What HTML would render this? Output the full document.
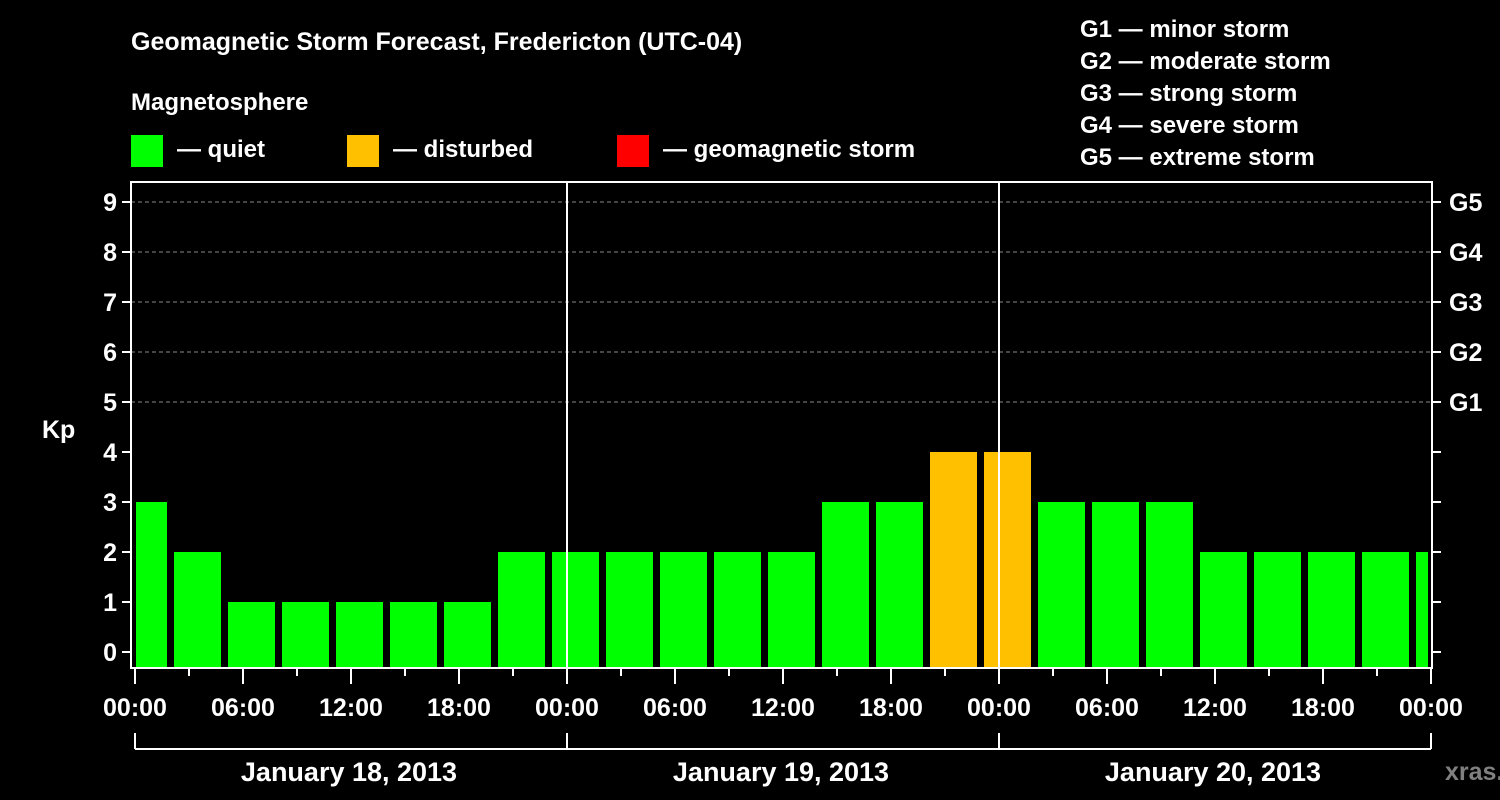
<!DOCTYPE html>
<html><head><meta charset="utf-8"><style>
body{margin:0;background:#000;}
svg{display:block;font-family:"Liberation Sans",sans-serif;font-weight:bold;}
</style></head><body>
<svg id="chart" width="1500" height="800" viewBox="0 0 1500 800">
<rect width="1500" height="800" fill="#000"/>
<text x="131" y="50" fill="#fff" font-size="25">Geomagnetic Storm Forecast, Fredericton (UTC-04)</text>
<text x="131" y="110" fill="#fff" font-size="24">Magnetosphere</text>
<g><rect x="131" y="135" width="32" height="32" fill="#00ff00"/><text x="177" y="157" fill="#fff" font-size="24">— quiet</text></g>
<g><rect x="347" y="135" width="32" height="32" fill="#ffc000"/><text x="393" y="157" fill="#fff" font-size="24">— disturbed</text></g>
<g><rect x="617" y="135" width="32" height="32" fill="#ff0000"/><text x="663" y="157" fill="#fff" font-size="24">— geomagnetic storm</text></g>
<g fill="#fff" font-size="24">
<text x="1080" y="37">G1 — minor storm</text>
<text x="1080" y="69">G2 — moderate storm</text>
<text x="1080" y="101">G3 — strong storm</text>
<text x="1080" y="133">G4 — severe storm</text>
<text x="1080" y="165">G5 — extreme storm</text>
</g>
<text x="42" y="438" fill="#fff" font-size="25">Kp</text>
<g id="grid"></g><g id="bars"></g><g id="axes"></g>
<text x="1445" y="780" fill="#808080" font-size="25">xras.ru</text>
</svg>
<script>
const kpValues=[3,2,1,1,1,1,1,2,2,2,2,2,2,3,3,4,4,3,3,3,2,2,2,2,2];
const gLabels=["G1","G2","G3","G4","G5"];
const yTicks=[0,1,2,3,4,5,6,7,8,9];
const xTickLabels=["00:00","06:00","12:00","18:00","00:00","06:00","12:00","18:00","00:00","06:00","12:00","18:00","00:00"];
const dayLabels=["January 18, 2013","January 19, 2013","January 20, 2013"];
const firstBlockHour=-1;
const NS="http://www.w3.org/2000/svg";
const X0=135,PXH=18,L=131,R=1432,T=182,B=668;
const xs=h=>X0+h*PXH, ys=v=>652-50*v;
function mk(p,tag,a){const e=document.createElementNS(NS,tag);for(const k in a)e.setAttribute(k,a[k]);p.appendChild(e);return e;}
const grid=document.getElementById('grid'),bars=document.getElementById('bars'),axes=document.getElementById('axes');
for(let v=5;v<=9;v++){const l=mk(grid,'line',{x1:L,x2:R,y1:ys(v),y2:ys(v),stroke:'#888','stroke-dasharray':'4,3','stroke-width':1});

}
kpValues.forEach((v,i)=>{const h0=firstBlockHour+3*i;let x1=xs(h0)+3,x2=xs(h0+3)-4;x1=Math.max(x1,L+5);x2=Math.min(x2,R-4);
const c=v>=5?'#ff0000':(v>=4?'#ffc000':'#00ff00');
const r=mk(bars,'rect',{x:x1,y:ys(v),width:x2-x1,height:B-ys(v),fill:c});

});
// day separators
[1,2].forEach(d=>{const l=mk(axes,'line',{x1:xs(24*d),x2:xs(24*d),y1:T,y2:B,stroke:'#fff','stroke-width':2});

});
const fr=mk(axes,'rect',{x:L,y:T,width:R-L,height:B-T,fill:'none',stroke:'#fff','stroke-width':2});


yTicks.forEach(v=>{mk(axes,'line',{x1:L-9,x2:L,y1:ys(v),y2:ys(v),stroke:'#fff','stroke-width':2});
mk(axes,'line',{x1:R,x2:R+9,y1:ys(v),y2:ys(v),stroke:'#fff','stroke-width':2});
const t=mk(axes,'text',{x:L-14,y:ys(v)+9,fill:'#fff','font-size':25,'text-anchor':'end'});t.textContent=v;

});
gLabels.forEach((g,i)=>{const t=mk(axes,'text',{x:R+17,y:ys(5+i)+9,fill:'#fff','font-size':25});t.textContent=g;

});
for(let h=0;h<=72;h+=3){const major=h%6===0;mk(axes,'line',{x1:xs(h),x2:xs(h),y1:B,y2:B+(major?16:8),stroke:'#fff','stroke-width':2});}
xTickLabels.forEach((s,i)=>{const t=mk(axes,'text',{x:xs(6*i),y:716,fill:'#fff','font-size':25,'text-anchor':'middle'});t.textContent=s;

});
mk(axes,'line',{x1:xs(0),x2:xs(72),y1:749,y2:749,stroke:'#fff','stroke-width':2});
for(let d=0;d<=3;d++)mk(axes,'line',{x1:xs(24*d),x2:xs(24*d),y1:733,y2:749,stroke:'#fff','stroke-width':2});
dayLabels.forEach((s,i)=>{const t=mk(axes,'text',{x:xs(24*i+12)-2,y:781,fill:'#fff','font-size':27,'text-anchor':'middle'});t.textContent=s;

});
</script>
</body></html>
